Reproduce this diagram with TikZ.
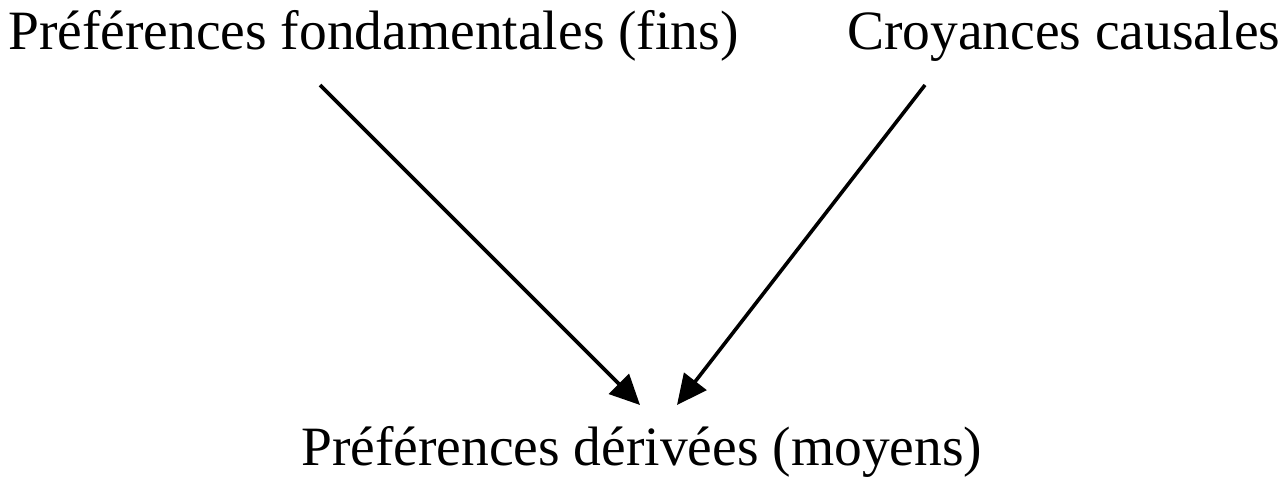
\documentclass[tikz,border=0pt]{standalone}
\usepackage{fontspec}
\setmainfont{Liberation Serif}
\usetikzlibrary{arrows.meta}
\begin{document}
\begin{tikzpicture}[x=1pt,y=1pt,
  lbl/.style={anchor=base west,inner sep=0pt,font=\fontsize{55.5}{60}\selectfont},
  arr/.style={line width=3.6pt,-{Triangle[length=30pt,width=28pt]}}]
\useasboundingbox (0,0) rectangle (1285,480);
\node[lbl] (fins) at (8,430) {Préférences fondamentales (fins)};
\node[lbl] (croy) at (847,430) {Croyances causales};
\node[lbl] (moy) at (301,15) {Préférences dérivées (moyens)};
\coordinate (s1) at (320,395);
\coordinate (e1) at (640,75);
\coordinate (s2) at (925,395);
\coordinate (e2) at (677,75);
\draw[arr] (s1) -- (e1);
\draw[arr] (s2) -- (e2);
\end{tikzpicture}
\end{document}
